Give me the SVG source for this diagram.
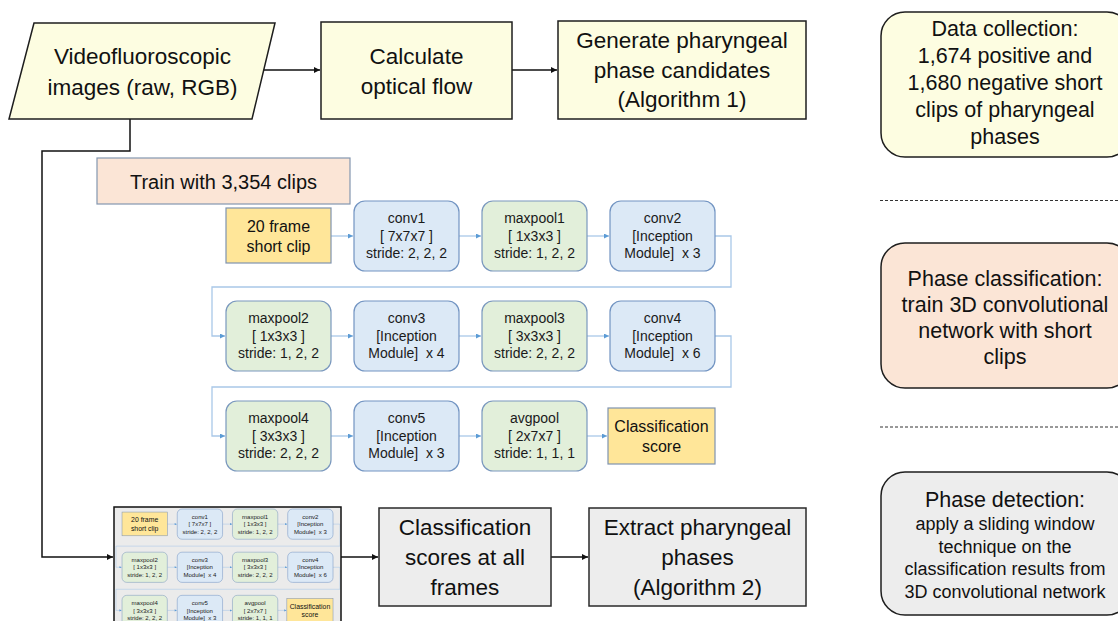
<svg xmlns="http://www.w3.org/2000/svg" xmlns:xlink="http://www.w3.org/1999/xlink" width="1118" height="621" viewBox="0 0 1118 621">
<defs>
<style>
text{font-family:"Liberation Sans",Arial,sans-serif;fill:#111;text-anchor:middle}
.t-main{font-size:22.5px}
.t-side{font-size:21.5px}
.t-small{font-size:18px}
.t-train{font-size:20px}
.t-net{font-size:14px;fill:#1a1a1a}
.t-clip{font-size:16px}
.box-y{fill:#fdfde1;stroke:#1e1e1e;stroke-width:1.5}
.box-g{fill:#ededed;stroke:#2a2a2a;stroke-width:1.5}
.box-p{fill:#fbe5d6;stroke:#1e1e1e;stroke-width:1.5}
.conv{fill:#dce9f6;stroke:#7294c2;stroke-width:1.2}
.pool{fill:#e2efda;stroke:#7a98be;stroke-width:1.2}
.clip{fill:#ffe699;stroke:#7f93b0;stroke-width:1.2}
.link{fill:none;stroke:#111;stroke-width:1.5}
.nlink{fill:none;stroke:#a9c8e8;stroke-width:1.3}
.dash{stroke:#333;stroke-width:1;stroke-dasharray:3 2}
</style>
<marker id="ah" viewBox="0 0 10 10" refX="10" refY="5" markerWidth="7" markerHeight="6" markerUnits="userSpaceOnUse" orient="auto">
<path d="M0,0 L10,5 L0,10 z" fill="#111"/>
</marker>
<marker id="ahb" viewBox="0 0 10 10" refX="10" refY="5" markerWidth="6" markerHeight="5" markerUnits="userSpaceOnUse" orient="auto">
<path d="M0,0 L10,5 L0,10 z" fill="#5b9bd5"/>
</marker>
<clipPath id="thumbClip"><rect x="114" y="507" width="227" height="130"/></clipPath>
</defs>

<!-- main connectors -->
<g id="connectors">
<path class="link" d="M264,70 H320" marker-end="url(#ah)"/>
<path class="link" d="M512,70 H557" marker-end="url(#ah)"/>
<path class="link" d="M130,119 V151 H42 V557 H113" marker-end="url(#ah)"/>
<path class="link" d="M341,557 H378" marker-end="url(#ah)"/>
<path class="link" d="M551,557 H588" marker-end="url(#ah)"/>
</g>

<g id="n-video">
<polygon class="box-y" points="34,23 275,23 252,119 9,119"/>
<text class="t-main" x="142.5" y="64">Videofluoroscopic</text>
<text class="t-main" x="142.5" y="94.5">images (raw, RGB)</text>
</g>
<g id="n-flow">
<rect class="box-y" x="321" y="22" width="191" height="97"/>
<text class="t-main" x="416.5" y="64">Calculate</text>
<text class="t-main" x="416.5" y="94">optical flow</text>
</g>
<g id="n-generate">
<rect class="box-y" x="558" y="21" width="248" height="98"/>
<text class="t-main" x="682" y="48">Generate pharyngeal</text>
<text class="t-main" x="682" y="78">phase candidates</text>
<text class="t-main" x="682" y="107">(Algorithm 1)</text>
</g>

<g id="n-train">
<rect x="97" y="158" width="253" height="46" fill="#fbe5d6" stroke="#8497b0" stroke-width="1.2"/>
<text class="t-train" x="223.5" y="189">Train with 3,354 clips</text>
</g>

<!-- 3D CNN network -->
<g id="network">
<g id="net-connectors">
<path class="nlink" d="M331,236 H353" marker-end="url(#ahb)"/>
<path class="nlink" d="M459,236 H481" marker-end="url(#ahb)"/>
<path class="nlink" d="M587,236 H609" marker-end="url(#ahb)"/>
<path class="nlink" d="M715,236 H731 V287 H212 V336 H225" marker-end="url(#ahb)"/>
<path class="nlink" d="M331,336 H353" marker-end="url(#ahb)"/>
<path class="nlink" d="M459,336 H481" marker-end="url(#ahb)"/>
<path class="nlink" d="M587,336 H609" marker-end="url(#ahb)"/>
<path class="nlink" d="M715,336 H731 V387 H212 V436 H225" marker-end="url(#ahb)"/>
<path class="nlink" d="M331,436 H353" marker-end="url(#ahb)"/>
<path class="nlink" d="M459,436 H481" marker-end="url(#ahb)"/>
<path class="nlink" d="M587,436 H607" marker-end="url(#ahb)"/>
</g>
<g id="net-clip">
<rect class="clip" x="226" y="208" width="105" height="55"/>
<text class="t-clip" x="278.5" y="232">20 frame</text>
<text class="t-clip" x="278.5" y="252">short clip</text>
</g>
<g id="net-conv1">
<rect class="conv" x="354" y="201" width="105" height="70" rx="11"/>
<text class="t-net" x="406.5" y="223">conv1</text>
<text class="t-net" x="406.5" y="241">[ 7x7x7 ]</text>
<text class="t-net" x="406.5" y="258">stride: 2, 2, 2</text>
</g>
<g id="net-maxpool1">
<rect class="pool" x="482" y="201" width="105" height="70" rx="11"/>
<text class="t-net" x="534.5" y="223">maxpool1</text>
<text class="t-net" x="534.5" y="241">[ 1x3x3 ]</text>
<text class="t-net" x="534.5" y="258">stride: 1, 2, 2</text>
</g>
<g id="net-conv2">
<rect class="conv" x="610" y="201" width="105" height="70" rx="11"/>
<text class="t-net" x="662.5" y="223">conv2</text>
<text class="t-net" x="662.5" y="241">[Inception</text>
<text class="t-net" x="662.5" y="258" xml:space="preserve">Module]  x 3</text>
</g>
<g id="net-maxpool2">
<rect class="pool" x="226" y="301" width="105" height="70" rx="11"/>
<text class="t-net" x="278.5" y="323">maxpool2</text>
<text class="t-net" x="278.5" y="341">[ 1x3x3 ]</text>
<text class="t-net" x="278.5" y="358">stride: 1, 2, 2</text>
</g>
<g id="net-conv3">
<rect class="conv" x="354" y="301" width="105" height="70" rx="11"/>
<text class="t-net" x="406.5" y="323">conv3</text>
<text class="t-net" x="406.5" y="341">[Inception</text>
<text class="t-net" x="406.5" y="358" xml:space="preserve">Module]  x 4</text>
</g>
<g id="net-maxpool3">
<rect class="pool" x="482" y="301" width="105" height="70" rx="11"/>
<text class="t-net" x="534.5" y="323">maxpool3</text>
<text class="t-net" x="534.5" y="341">[ 3x3x3 ]</text>
<text class="t-net" x="534.5" y="358">stride: 2, 2, 2</text>
</g>
<g id="net-conv4">
<rect class="conv" x="610" y="301" width="105" height="70" rx="11"/>
<text class="t-net" x="662.5" y="323">conv4</text>
<text class="t-net" x="662.5" y="341">[Inception</text>
<text class="t-net" x="662.5" y="358" xml:space="preserve">Module]  x 6</text>
</g>
<g id="net-maxpool4">
<rect class="pool" x="226" y="401" width="105" height="70" rx="11"/>
<text class="t-net" x="278.5" y="423">maxpool4</text>
<text class="t-net" x="278.5" y="441">[ 3x3x3 ]</text>
<text class="t-net" x="278.5" y="458">stride: 2, 2, 2</text>
</g>
<g id="net-conv5">
<rect class="conv" x="354" y="401" width="105" height="70" rx="11"/>
<text class="t-net" x="406.5" y="423">conv5</text>
<text class="t-net" x="406.5" y="441">[Inception</text>
<text class="t-net" x="406.5" y="458" xml:space="preserve">Module]  x 3</text>
</g>
<g id="net-avgpool">
<rect class="pool" x="482" y="401" width="105" height="70" rx="11"/>
<text class="t-net" x="534.5" y="423">avgpool</text>
<text class="t-net" x="534.5" y="441">[ 2x7x7 ]</text>
<text class="t-net" x="534.5" y="458">stride: 1, 1, 1</text>
</g>
<g id="net-score">
<rect class="clip" x="608" y="408" width="107" height="56"/>
<text class="t-clip" x="661.5" y="432">Classification</text>
<text class="t-clip" x="661.5" y="452">score</text>
</g>
</g>

<!-- thumbnail of the trained network -->
<g id="n-thumbnail">
<rect x="114" y="507" width="227" height="130" fill="#ebebeb"/>
<g clip-path="url(#thumbClip)">
<use xlink:href="#network" href="#network" transform="translate(24.5,422.3) scale(0.4315)"/>
</g>
<rect x="114" y="507" width="227" height="130" fill="none" stroke="#111" stroke-width="1.5"/>
</g>

<g id="n-scores">
<rect class="box-g" x="379" y="508" width="172" height="98"/>
<text class="t-main" x="465" y="535">Classification</text>
<text class="t-main" x="465" y="565">scores at all</text>
<text class="t-main" x="465" y="595">frames</text>
</g>
<g id="n-extract">
<rect class="box-g" x="589" y="508" width="217" height="98"/>
<text class="t-main" x="697.5" y="535">Extract pharyngeal</text>
<text class="t-main" x="697.5" y="565">phases</text>
<text class="t-main" x="697.5" y="595">(Algorithm 2)</text>
</g>

<!-- right column -->
<g id="n-data">
<rect class="box-y" x="881" y="12" width="250" height="145" rx="24"/>
<text class="t-side" x="1005" y="35.5">Data collection:</text>
<text class="t-side" x="1005" y="62.5">1,674 positive and</text>
<text class="t-side" x="1005" y="89.5">1,680 negative short</text>
<text class="t-side" x="1005" y="116.5">clips of pharyngeal</text>
<text class="t-side" x="1005" y="143.5">phases</text>
</g>
<line class="dash" x1="880" y1="200.5" x2="1118" y2="200.5"/>
<g id="n-classification">
<rect class="box-p" x="881" y="243" width="250" height="145" rx="24"/>
<text class="t-side" x="1005" y="285.5">Phase classification:</text>
<text class="t-side" x="1005" y="311.5">train 3D convolutional</text>
<text class="t-side" x="1005" y="337.5">network with short</text>
<text class="t-side" x="1005" y="363.5">clips</text>
</g>
<line class="dash" x1="880" y1="427" x2="1118" y2="427"/>
<g id="n-detection">
<rect class="box-g" x="881" y="472" width="250" height="143" rx="24" style="stroke:#1e1e1e"/>
<text class="t-side" x="1005" y="507">Phase detection:</text>
<text class="t-small" x="1005" y="530">apply a sliding window</text>
<text class="t-small" x="1005" y="552.5">technique on the</text>
<text class="t-small" x="1005" y="575">classification results from</text>
<text class="t-small" x="1005" y="597.5">3D convolutional network</text>
</g>
</svg>
